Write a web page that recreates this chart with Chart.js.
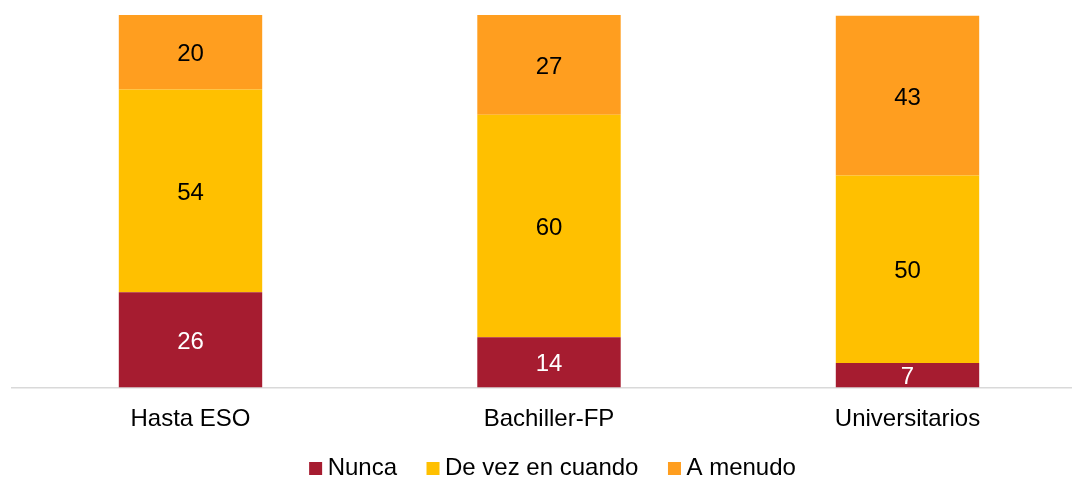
<!DOCTYPE html>
<html>
<head>
<meta charset="utf-8">
<script src="https://cdn.jsdelivr.net/npm/chart.js@4.4.1/dist/chart.umd.min.js"></script>
<style>
  html, body { margin: 0; padding: 0; background: #fff; overflow: hidden; }
  #wrap { position: relative; width: 1105px; height: 478px; }
</style>
</head>
<body>
<div id="wrap"><canvas id="c"></canvas></div>
<script>
const categories = ["Hasta ESO", "Bachiller-FP", "Universitarios"];
const nunca = [25.6, 13.5, 6.6];
const deVezEnCuando = [54.4, 59.7, 50.3];
const aMenudo = [20.0, 26.8, 42.9];
const seriesNames = ["Nunca", "De vez en cuando", "A menudo"];
const seriesColors = ["#A61C30", "#FFC000", "#FF9E1F"];
const labelColors = ["#ffffff", "#000000", "#000000"];

const FONT = "'Liberation Sans', Arial, sans-serif";
const FS = 24;

const dataLabels = {
  id: 'dataLabels',
  afterDatasetsDraw(chart) {
    const ctx = chart.ctx;
    ctx.save();
    ctx.font = FS + "px " + FONT;
    ctx.textAlign = 'center';
    ctx.textBaseline = 'middle';
    chart.data.datasets.forEach((ds, i) => {
      const meta = chart.getDatasetMeta(i);
      meta.data.forEach((el, j) => {
        const v = ds.data[j];
        const y = (el.y + el.base) / 2;
        ctx.fillStyle = labelColors[i];
        ctx.fillText(String(Math.round(v)), el.x, y + 2.5);
      });
    });
    ctx.restore();
  }
};

const customLegend = {
  id: 'customLegend',
  afterDraw(chart) {
    const ctx = chart.ctx;
    ctx.save();
    ctx.font = FS + "px " + FONT;
    ctx.textBaseline = 'middle';
    ctx.textAlign = 'left';
    const box = 13, gap = 18.5, spacing = 29.5;
    const items = chart.data.datasets.map(ds => ({
      text: ds.label, color: ds.backgroundColor, w: ctx.measureText(ds.label).width
    }));
    let total = 0;
    items.forEach((it, i) => { total += gap + it.w + (i < items.length - 1 ? spacing : 0); });
    let x = chart.width / 2 - total / 2;
    const cy = 468.5;
    items.forEach(it => {
      ctx.fillStyle = it.color;
      ctx.fillRect(x, cy - box / 2, box, box);
      ctx.fillStyle = '#000';
      ctx.fillText(it.text, x + gap, cy);
      x += gap + it.w + spacing;
    });
    ctx.restore();
  }
};

new Chart(document.getElementById('c'), {
  type: 'bar',
  data: {
    labels: categories,
    datasets: [
      { label: seriesNames[0], data: nunca, backgroundColor: seriesColors[0] },
      { label: seriesNames[1], data: deVezEnCuando, backgroundColor: seriesColors[1] },
      { label: seriesNames[2], data: aMenudo, backgroundColor: seriesColors[2] }
    ]
  },
  options: {
    responsive: true,
    maintainAspectRatio: false,
    animation: false,
    datasets: { bar: { categoryPercentage: 1, barPercentage: 0.4, borderWidth: 0 } },
    layout: { padding: { left: 11.25, right: 18.25, top: 15, bottom: 51 } },
    scales: {
      x: {
        stacked: true,
        grid: { display: false, drawTicks: false },
        border: { display: true, color: '#d9d9d9', width: 1.5 },
        ticks: { color: '#000', font: { family: FONT, size: FS }, padding: 17 },
        afterFit(scale) { scale.height = 39.5; }
      },
      y: {
        stacked: true,
        display: false,
        min: 0,
        max: 100
      }
    },
    plugins: {
      legend: { display: false },
      tooltip: { enabled: false }
    }
  },
  plugins: [dataLabels, customLegend]
});
</script>
</body>
</html>
